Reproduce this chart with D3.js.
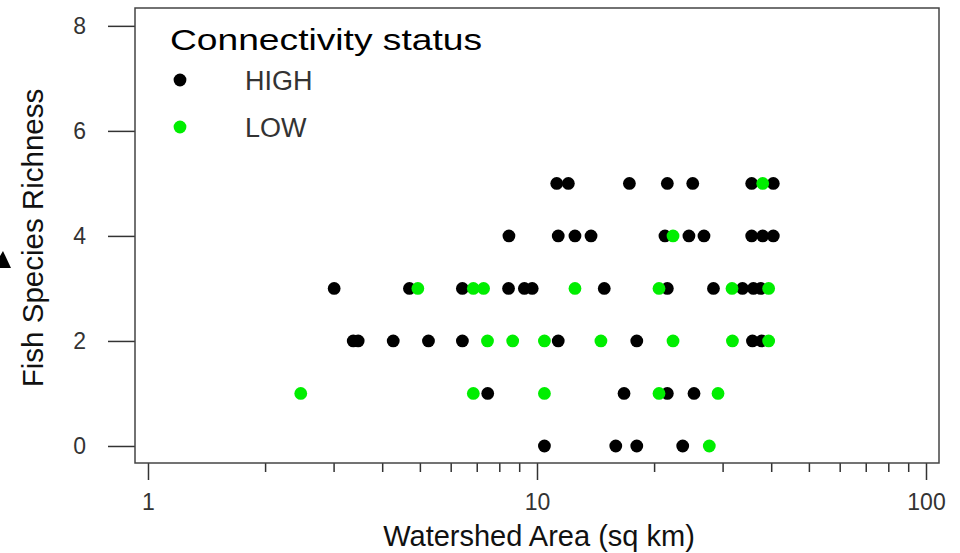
<!DOCTYPE html>
<head>
  <meta charset="utf-8">
  <script src="https://d3js.org/d3.v7.min.js"></script>
  <style>
    body { margin: 0; background: #fff; }
    text { font-family: "Liberation Sans", Arial, sans-serif; }
    .axis path { display: none; }
    .axis line { stroke: #333; stroke-width: 1.5px; }
    .axis text { fill: #333; font-size: 23px; }
  </style>
</head>

<body>
  <script>

    // Watershed area (sq km) and fish species richness, by connectivity status
    var highArea = [11.24, 12.04, 17.28, 21.63, 25.14, 35.64, 40.5,
                    8.47, 11.34, 12.52, 13.77, 21.33, 24.58, 26.87, 35.64, 38.04, 40.5,
                    3.01, 4.70, 6.43, 8.45, 9.28, 9.72, 14.89, 21.63, 28.42, 33.75, 36.0, 37.59,
                    3.37, 3.47, 4.27, 5.26, 6.43, 11.34, 18.05, 35.8, 37.8,
                    7.47, 16.74, 21.63, 25.33,
                    10.45, 15.94, 18.05, 23.69];
    var highRich = [5, 5, 5, 5, 5, 5, 5,
                    4, 4, 4, 4, 4, 4, 4, 4, 4, 4,
                    3, 3, 3, 3, 3, 3, 3, 3, 3, 3, 3, 3,
                    2, 2, 2, 2, 2, 2, 2, 2, 2,
                    1, 1, 1, 1,
                    0, 0, 0, 0];

    var lowArea = [38.04,
                   22.37,
                   4.94, 6.86, 7.29, 12.52, 20.59, 31.72, 39.4,
                   7.46, 8.66, 10.45, 14.60, 22.37, 31.8, 39.4,
                   2.47, 6.86, 10.45, 20.59, 29.2,
                   27.73];
    var lowRich = [5,
                   4,
                   3, 3, 3, 3, 3, 3, 3,
                   2, 2, 2, 2, 2, 2, 2,
                   1, 1, 1, 1, 1,
                   0];

    var groups = ["HIGH", "LOW"];
    var groupColors = ["#000000", "#00ee00"];
    var yTicks = [0, 2, 4, 6, 8];
    var xMajor = [1, 10, 100];
    var xMinor = [2, 3, 4, 5, 6, 7, 8, 9, 20, 30, 40, 50, 60, 70, 80, 90];

    var margin = {top: 8, left: 135};
    var width = 804;
    var height = 455;

    var svg = d3.select("body").append("svg")
      .attr("width", 960)
      .attr("height", 553);

    var g = svg.append("g")
      .attr("transform", "translate(" + margin.left + "," + margin.top + ")");

    // Log x scale, a bit of padding past 1 and 100 like R does
    var x = d3.scaleLog()
      .domain([0.926, 108])
      .range([0, width]);

    var y = d3.scaleLinear()
      .domain([-0.324, 8.34])
      .range([height, 0]);

    var color = d3.scaleOrdinal().domain(groups).range(groupColors);

    var points = [];
    highArea.forEach(function(a, i) { points.push({area: a, rich: highRich[i], status: "HIGH"}); });
    lowArea.forEach(function(a, i) { points.push({area: a, rich: lowRich[i], status: "LOW"}); });

    // y axis
    g.append("g")
      .attr("class", "axis")
      .call(d3.axisLeft(y).tickValues(yTicks).tickSize(27).tickPadding(22));

    // x axis: minor then major ticks
    g.append("g")
      .attr("class", "axis")
      .attr("transform", "translate(0," + height + ")")
      .call(d3.axisBottom(x).tickValues(xMinor).tickSize(9).tickFormat(""));

    g.append("g")
      .attr("class", "axis")
      .attr("transform", "translate(0," + height + ")")
      .call(d3.axisBottom(x).tickValues(xMajor).tickSize(17).tickPadding(14).tickFormat(d3.format("d")));

    // box
    g.append("rect")
      .attr("width", width)
      .attr("height", height)
      .style("fill", "none")
      .style("stroke", "#444")
      .style("stroke-width", 1.5);

    g.selectAll(".dot").data(points).enter()
     .append("circle")
      .attr("class", "dot")
      .attr("cx", function(d) { return x(d.area); })
      .attr("cy", function(d) { return y(d.rich); })
      .attr("r", 6.4)
      .style("fill", function(d) { return color(d.status); });

    // axis titles
    svg.append("text")
      .text("Watershed Area (sq km)")
      .attr("x", margin.left + width / 2 + 2)
      .attr("y", 546)
      .attr("text-anchor", "middle")
      .style("font-size", "29px")
      .style("fill", "#111");

    svg.append("text")
      .text("Fish Species Richness")
      .attr("transform", "translate(43," + (margin.top + 230) + ") rotate(-90)")
      .attr("text-anchor", "middle")
      .style("font-size", "29.5px")
      .style("fill", "#111");

    // legend
    var legend = g.append("g")
      .attr("transform", "translate(35,0)");

    legend.append("text")
      .text("Connectivity status")
      .attr("x", 0)
      .attr("y", 42)
      .attr("textLength", 312)
      .attr("lengthAdjust", "spacingAndGlyphs")
      .style("font-size", "30px")
      .style("fill", "#000");

    var item = legend.selectAll(".item").data(groups).enter()
     .append("g")
      .attr("class", "item")
      .attr("transform", function(d, i) { return "translate(0," + (72 + i * 47) + ")"; });

    item.append("circle")
      .attr("cx", 10)
      .attr("r", 6.4)
      .style("fill", function(d) { return color(d); });

    item.append("text")
      .text(function(d) { return d; })
      .attr("x", 75)
      .attr("dy", "0.36em")
      .style("font-size", "27px")
      .style("fill", "#333");

    // bit of an arrow head cut off at the left edge
    svg.append("path")
      .attr("d", "M0,256L3,251L11,268L0,268Z")
      .style("fill", "#000");

  </script>
</body>
